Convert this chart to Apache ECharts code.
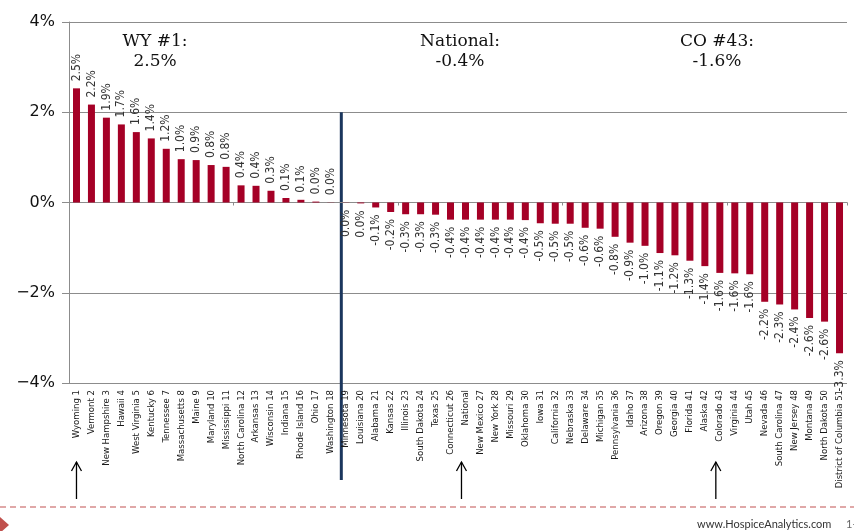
<!DOCTYPE html>
<html><head><meta charset="utf-8">
<script src="https://cdn.jsdelivr.net/npm/echarts@6/dist/echarts.min.js"></script>
<style>html,body{margin:0;padding:0;background:#fff}#c{width:854px;height:531px}</style>
</head><body><div id="c"></div>
<script>
const categories = ['Wyoming 1','Vermont 2','New Hampshire 3','Hawaii 4','West Virginia 5','Kentucky 6','Tennessee 7','Massachusetts 8','Maine 9','Maryland 10','Mississippi 11','North Carolina 12','Arkansas 13','Wisconsin 14','Indiana 15','Rhode Island 16','Ohio 17','Washington 18','Minnesota 19','Louisiana 20','Alabama 21','Kansas 22','Illinois 23','South Dakota 24','Texas 25','Connecticut 26','National','New Mexico 27','New York 28','Missouri 29','Oklahoma 30','Iowa 31','California 32','Nebraska 33','Delaware 34','Michigan 35','Pennsylvania 36','Idaho 37','Arizona 38','Oregon 39','Georgia 40','Florida 41','Alaska 42','Colorado 43','Virginia 44','Utah 45','Nevada 46','South Carolina 47','New Jersey 48','Montana 49','North Dakota 50','District of Columbia 51'];
const values = [2.53,2.17,1.88,1.73,1.56,1.42,1.19,0.96,0.94,0.83,0.79,0.38,0.37,0.26,0.10,0.06,0.02,0.004,
  -0.004,-0.02,-0.11,-0.21,-0.26,-0.26,-0.27,-0.38,-0.38,-0.38,-0.38,-0.38,-0.39,-0.46,-0.47,-0.47,-0.56,-0.58,
  -0.76,-0.89,-0.96,-1.12,-1.17,-1.29,-1.41,-1.56,-1.57,-1.59,-2.20,-2.26,-2.37,-2.56,-2.64,-3.34];
const yTicks = [-4,-2,0,2,4];
const yTickLabels = ['\u22124%','\u22122%','0%','2%','4%'];
const callouts = [
  {cat:'Wyoming 1', title:'WY #1:', x:155},
  {cat:'National', title:'National:', x:460},
  {cat:'Colorado 43', title:'CO #43:', x:717}
];

function fmt(v){ return (Math.abs(v) < 0.05 ? '0.0' : v.toFixed(1)) + '%'; }

const chart = echarts.init(document.getElementById('c'));
const narrow = "'Liberation Sans Narrow','Arial Narrow','DejaVu Sans Condensed','Liberation Sans',sans-serif";
chart.setOption({
  animation:false,
  grid:{left:69,right:7,top:22,bottom:148},
  xAxis:[{
    type:'category', data:categories, position:'bottom',
    axisLine:{onZero:true, lineStyle:{color:'#8c8c8c',width:1}},
    axisTick:{show:true,length:3,lineStyle:{color:'#8c8c8c'}},
    axisLabel:{show:false}, splitLine:{show:false}
  },{
    type:'category', data:categories, position:'bottom',
    axisLine:{show:false,onZero:false}, axisTick:{show:false},
    axisLabel:{interval:0, rotate:90, margin:7, fontFamily:narrow, fontSize:9.5, color:'#1a1a1a'}
  }],
  yAxis:{
    type:'value', min:-4, max:4, interval:2,
    axisLine:{show:true,lineStyle:{color:'#8c8c8c'}},
    axisTick:{show:true,length:7,lineStyle:{color:'#8c8c8c'}},
    splitLine:{lineStyle:{color:'#8c8c8c',width:1}},
    axisLabel:{margin:14,fontFamily:"'DejaVu Sans',sans-serif",fontSize:16,color:'#111',
      formatter:v=>yTickLabels[yTicks.indexOf(v)]}
  },
  series:[{
    type:'bar', xAxisIndex:0, barWidth:7,
    itemStyle:{color:'#A50026'},
    data:values.map(v=>({value:v,label:{position:v>=0?'top':'bottom',align:v>=0?'left':'right'}})),
    label:{show:true, rotate:90, distance:7, verticalAlign:'middle',
      fontFamily:narrow, fontSize:12, color:'#333', formatter:p=>fmt(p.value)}
  }]
});

const xp = c => chart.convertToPixel({xAxisIndex:0}, c);
const yp = v => chart.convertToPixel({yAxisIndex:0}, v);
const g = [];
const dx = (xp(categories[17]) + xp(categories[18]))/2 + 3;
g.push({type:'line', shape:{x1:dx,y1:yp(2),x2:dx,y2:480}, style:{stroke:'#1B365D',lineWidth:3}});
callouts.forEach((c,i)=>{
  const x = xp(c.cat) - (i===0?0:4);
  g.push({type:'line', shape:{x1:x,y1:499,x2:x,y2:462}, style:{stroke:'#000',lineWidth:1.3}});
  g.push({type:'polyline', shape:{points:[[x-5,471],[x,462],[x+5,471]]}, style:{stroke:'#000',lineWidth:1.3,fill:null}});
  const v = values[categories.indexOf(c.cat)];
  g.push({type:'text', x:c.x, y:32, style:{text:c.title+'\n'+fmt(v), align:'center', verticalAlign:'top',
    font:"17px 'DejaVu Serif',serif", lineHeight:20, fill:'#111'}});
});
g.push({type:'line', shape:{x1:0,y1:507,x2:854,y2:507}, style:{stroke:'#E0A8A8',lineWidth:2,lineDash:[6,4]}});
g.push({type:'polygon', shape:{points:[[0,517],[9,525],[0,533]]}, style:{fill:'#C0504D'}});
g.push({type:'text', x:697, y:524, style:{text:'www.HospiceAnalytics.com', verticalAlign:'middle',
  font:"11px Lato,'Open Sans',sans-serif", fill:'#333'}});
g.push({type:'text', x:846, y:524, style:{text:'1-', verticalAlign:'middle', font:"11px Lato,sans-serif", fill:'#666'}});
chart.setOption({graphic:g});
</script></body></html>
